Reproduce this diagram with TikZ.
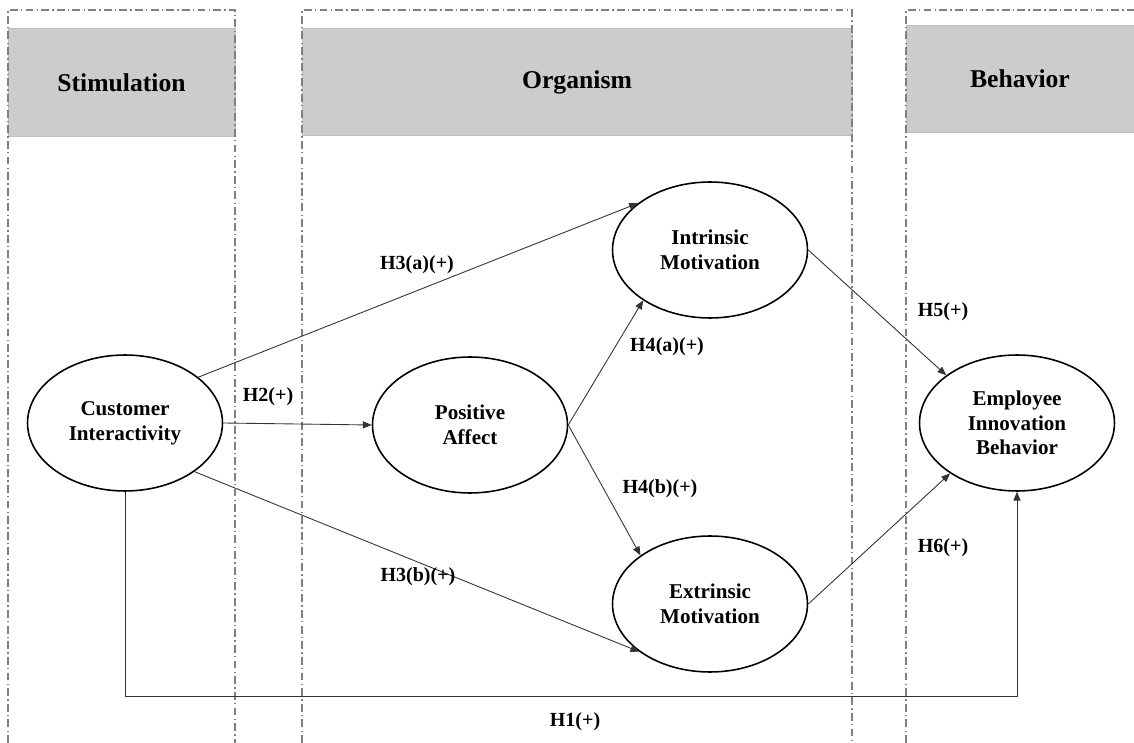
\documentclass[tikz,border=0pt]{standalone}
\usepackage{fontspec}
\setmainfont{Liberation Serif}
\usetikzlibrary{arrows.meta, shapes.geometric}

\begin{document}
\begin{tikzpicture}[x=0.02cm, y=-0.02cm,
            panel/.style={draw=black!50, line width=0.6pt, dash pattern=on 4.5pt off 1.8pt on 0.8pt off 1.8pt},
            head/.style={fill=black!20, draw=black!25, line width=0.5pt},
            title/.style={font=\fontsize{14.6}{17}\selectfont\bfseries},
            construct/.style={ellipse, draw, line width=0.9pt, fill=white, minimum width=3.9cm, minimum height=2.72cm, inner sep=0pt, align=center, font=\fontsize{12}{14}\selectfont\bfseries},
            link/.style={draw=black!80, line width=0.5pt, -{Triangle[length=5pt, width=4pt]}},
            hyp/.style={font=\fontsize{11.4}{13}\selectfont\bfseries}]
            \useasboundingbox (0,0) rectangle (1134,743);

            \draw[head] (8,28) rectangle (235,136);
            \draw[head] (302,28) rectangle (852,135);
            \draw[head] (906,25) rectangle (1140,132);
            \draw[panel] (8,743) -- (8,10) -- (235,10) -- (235,743);
            \draw[panel] (302,743) -- (302,10) -- (852,10) -- (852,743);
            \draw[panel] (906,743) -- (906,10) -- (1140,10);

            \node[title] (ST) at (121.5,83) {Stimulation};
            \node[title] (OR) at (577,82) {Organism};
            \node[title] (BE) at (1020,79) {Behavior};

            \node[construct] (CI) at (125,423) {Customer\\Interactivity};
            \node[construct] (PA) at (470,425) {Positive\\Affect};
            \node[construct] (IM) at (710,250) {Intrinsic\\Motivation};
            \node[construct] (EM) at (710,604) {Extrinsic\\Motivation};
            \node[construct] (EIB) at (1017,423) {Employee\\Innovation\\Behavior};
            \coordinate (H1c) at (1017,696);

            \draw[link] (CI.32) -- (IM.147);
            \draw[link] (CI.east) -- (PA.west);
            \draw[link] (CI.-35) -- (EM.214);
            \draw[link] (PA.east) -- (IM.217);
            \draw[link] (PA.east) -- (EM.145);
            \draw[link] (IM.east) -- (EIB.146);
            \draw[link] (EM.east) -- (EIB.217);
            \draw[link] (CI.south) |- (H1c) -- (EIB.south);

            \node[hyp] (L3a) at (417,265) {H3(a)(+)};
            \node[hyp] (L2) at (268,397) {H2(+)};
            \node[hyp] (L4a) at (667,347) {H4(a)(+)};
            \node[hyp] (L4b) at (660,489) {H4(b)(+)};
            \node[hyp] (L3b) at (418,577) {H3(b)(+)};
            \node[hyp] (L5) at (943,312) {H5(+)};
            \node[hyp] (L6) at (943,548) {H6(+)};
            \node[hyp] (L1) at (575,722) {H1(+)};
        \end{tikzpicture}
\end{document}
